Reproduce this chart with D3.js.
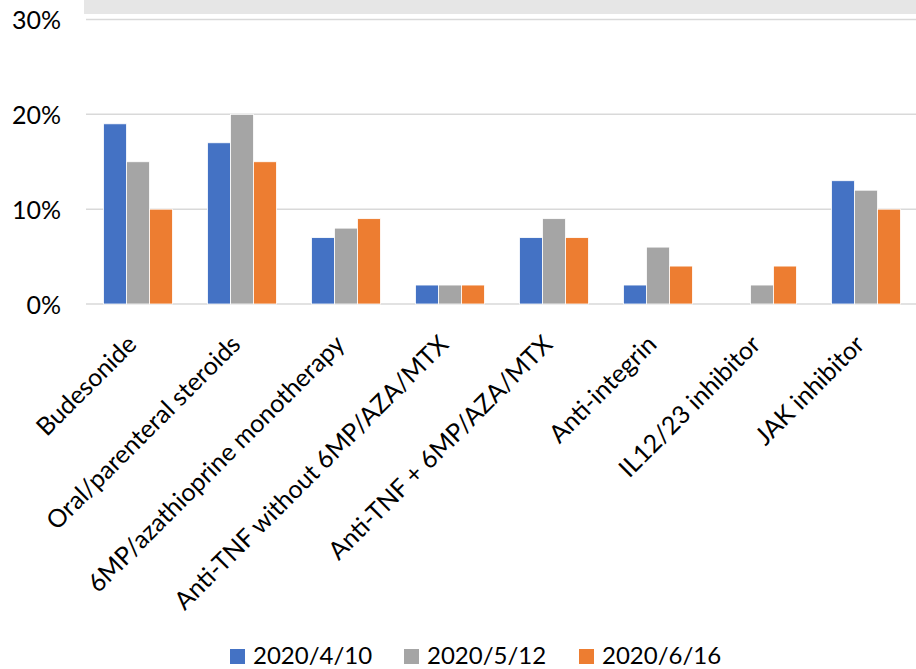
<!DOCTYPE html>
<html><head><meta charset="utf-8">
<script src="https://cdn.jsdelivr.net/npm/d3@7"></script>
<style>body{margin:0;background:#fff}svg{display:block}text{font-family:Lato,"Open Sans",sans-serif;fill:#000}</style>
</head><body>
<svg id="c" width="916" height="669"></svg>
<script>
const categories = ["Budesonide","Oral/parenteral steroids","6MP/azathioprine monotherapy","Anti-TNF without 6MP/AZA/MTX","Anti-TNF + 6MP/AZA/MTX","Anti-integrin","IL12/23 inhibitor","JAK inhibitor"];
const seriesNames = ["2020/4/10","2020/5/12","2020/6/16"];
const s1 = [19,17,7,2,7,2,0,13];
const s2 = [15,20,8,2,9,6,2,12];
const s3 = [10,15,9,2,7,4,4,10];
const yTicks = [0,10,20,30];
const colors = ["#4472C4","#A5A5A5","#ED7D31"];

const series = [s1,s2,s3];
const svg = d3.select("#c");
// cropped header band
svg.append("rect").attr("x",84).attr("y",0).attr("width",832).attr("height",14).attr("fill","#e6e6e6");

const x = d3.scaleBand().domain(categories).range([86,918]).paddingInner(0.337).paddingOuter(0.1685);
const xs = d3.scaleBand().domain(seriesNames).range([0,x.bandwidth()]);
const y = d3.scaleLinear().domain([0,30]).range([304,19.5]);

const grid = svg.append("g");
grid.selectAll("line").data(yTicks).join("line")
  .attr("x1",86).attr("x2",916).attr("y1",d=>y(d)).attr("y2",d=>y(d))
  .attr("stroke","#d9d9d9").attr("stroke-width",1.5);

const yAxis = svg.append("g").attr("transform","translate(61,0)")
  .call(d3.axisLeft(y).tickValues(yTicks).tickFormat(d=>d+"%").tickSize(0));
yAxis.select(".domain").remove();
yAxis.selectAll("text").attr("font-size",25).style("font-family","Lato,sans-serif").attr("text-anchor","end").attr("dy","0.36em").attr("x",0);

series.forEach((vals,si)=>{
  svg.append("g").selectAll("rect").data(categories.map((c,i)=>({c,v:vals[i]})).filter(d=>d.v>0)).join("rect")
    .attr("x",d=>x(d.c)+xs(seriesNames[si]))
    .attr("y",d=>y(d.v))
    .attr("width",xs.bandwidth())
    .attr("height",d=>y(0)-y(d.v))
    .attr("fill",colors[si]).attr("stroke","#fff").attr("stroke-width",0.8);
});

const xAxis = svg.append("g").attr("transform","translate(0,304)")
  .call(d3.axisBottom(x).tickSize(0));
xAxis.select(".domain").remove();
xAxis.selectAll("text").attr("font-size",25).style("font-family","Lato,sans-serif")
  .attr("text-anchor","end").attr("dy",0).attr("y",0).attr("x",0)
  .attr("transform","translate(0,42) rotate(-45)");

const leg = [{x:230,tx:253},{x:404,tx:427},{x:579,tx:602}];
const lg = svg.append("g");
seriesNames.forEach((n,i)=>{
  lg.append("rect").attr("x",leg[i].x).attr("y",649).attr("width",15).attr("height",15).attr("fill",colors[i]);
  lg.append("text").attr("x",leg[i].tx).attr("y",664).attr("font-size",24).text(n);
});
</script></body></html>
